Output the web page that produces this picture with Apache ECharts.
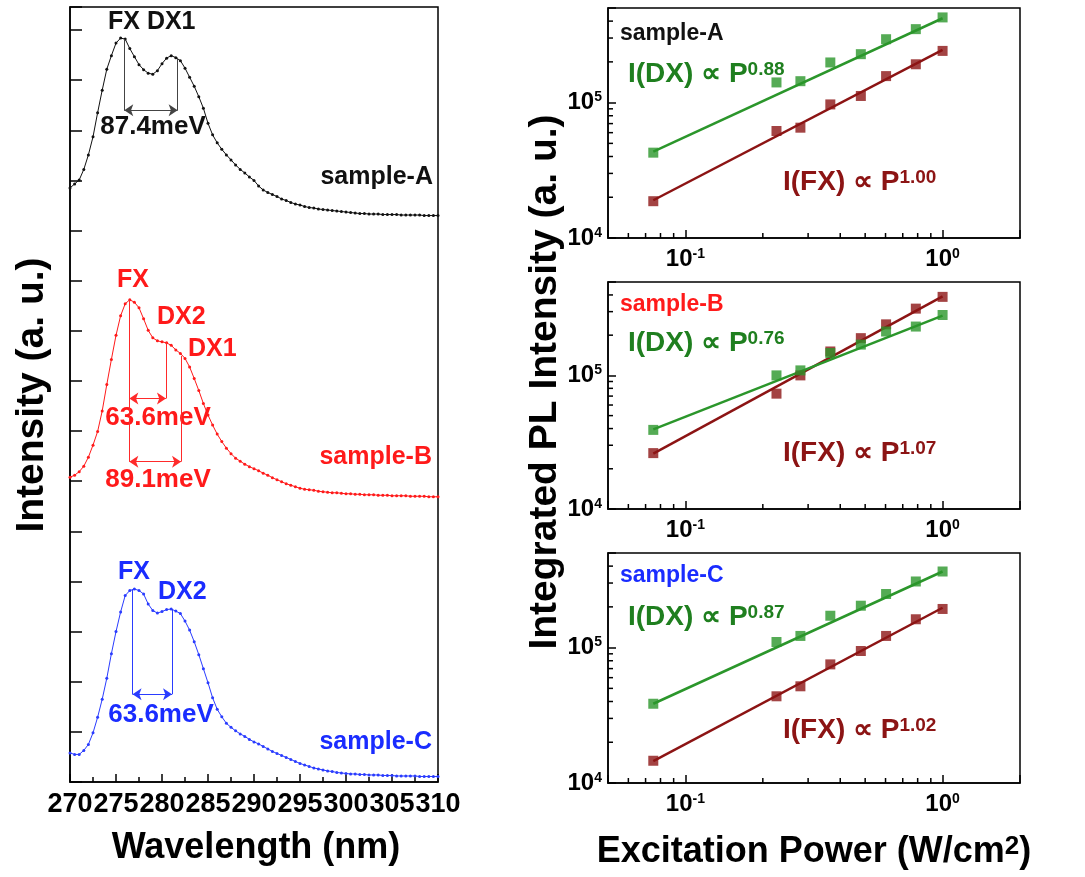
<!DOCTYPE html>
<html>
<head>
<meta charset="utf-8">
<title>PL spectra and excitation power dependence</title>
<script src="https://cdn.jsdelivr.net/npm/echarts@6.0.0/dist/echarts.min.js"></script>
<style>
  html, body { margin: 0; padding: 0; background: #fff; }
  #main { width: 1085px; height: 877px; }
</style>
</head>
<body>
<div id="main"></div>
<script>
// ---- left panel: PL spectra (offset, arbitrary units) ----
var wavelength = [270, 270.5, 271, 271.5, 272, 272.5, 273, 273.5, 274, 274.5,
  275, 275.5, 276, 276.5, 277, 277.5, 278, 278.5, 279, 279.5,
  280, 280.5, 281, 281.5, 282, 282.5, 283, 283.5, 284, 284.5,
  285, 285.5, 286, 286.5, 287, 287.5, 288, 288.5, 289, 289.5,
  290, 290.5, 291, 291.5, 292, 292.5, 293, 293.5, 294, 294.5,
  295, 295.5, 296, 296.5, 297, 297.5, 298, 298.5, 299, 299.5,
  300, 300.5, 301, 301.5, 302, 302.5, 303, 303.5, 304, 304.5,
  305, 305.5, 306, 306.5, 307, 307.5, 308, 308.5, 309, 309.5, 310];

var specA = [11.85, 11.93, 12.01, 12.22, 12.51, 12.87, 13.35, 13.80, 14.22, 14.49,
  14.74, 14.84, 14.82, 14.63, 14.47, 14.31, 14.21, 14.14, 14.12, 14.19,
  14.33, 14.44, 14.49, 14.45, 14.39, 14.24, 14.06, 13.88, 13.67, 13.44,
  13.14, 12.91, 12.75, 12.62, 12.51, 12.41, 12.31, 12.22, 12.15, 12.07,
  12.00, 11.89, 11.81, 11.76, 11.72, 11.68, 11.63, 11.60, 11.56, 11.53,
  11.51, 11.48, 11.46, 11.45, 11.43, 11.42, 11.41, 11.40, 11.39, 11.38,
  11.37, 11.36, 11.35, 11.34, 11.34, 11.33, 11.33, 11.33, 11.32, 11.32,
  11.32, 11.32, 11.31, 11.31, 11.31, 11.31, 11.31, 11.30, 11.30, 11.30, 11.30];

var specB = [6.08, 6.12, 6.19, 6.30, 6.48, 6.72, 6.99, 7.40, 7.93, 8.43,
  8.91, 9.30, 9.54, 9.62, 9.57, 9.46, 9.24, 9.01, 8.86, 8.80,
  8.78, 8.76, 8.71, 8.62, 8.55, 8.45, 8.28, 8.05, 7.81, 7.55,
  7.32, 7.12, 6.94, 6.79, 6.66, 6.55, 6.46, 6.40, 6.34, 6.29,
  6.25, 6.21, 6.16, 6.12, 6.07, 6.03, 5.99, 5.95, 5.92, 5.89,
  5.86, 5.84, 5.83, 5.82, 5.80, 5.79, 5.78, 5.77, 5.77, 5.76,
  5.75, 5.75, 5.74, 5.74, 5.73, 5.73, 5.73, 5.72, 5.72, 5.72,
  5.71, 5.71, 5.71, 5.71, 5.70, 5.70, 5.70, 5.70, 5.69, 5.69, 5.69];

var specC = [0.58, 0.55, 0.55, 0.63, 0.75, 0.98, 1.29, 1.65, 2.07, 2.56,
  3.00, 3.39, 3.72, 3.82, 3.85, 3.82, 3.75, 3.55, 3.42, 3.37,
  3.40, 3.44, 3.45, 3.41, 3.36, 3.21, 3.03, 2.80, 2.54, 2.26,
  1.98, 1.68, 1.45, 1.30, 1.17, 1.09, 1.02, 0.96, 0.91, 0.85,
  0.80, 0.76, 0.71, 0.66, 0.61, 0.57, 0.53, 0.49, 0.45, 0.41,
  0.37, 0.34, 0.31, 0.28, 0.26, 0.24, 0.22, 0.21, 0.19, 0.18,
  0.17, 0.16, 0.16, 0.15, 0.15, 0.14, 0.14, 0.14, 0.13, 0.13,
  0.13, 0.12, 0.12, 0.12, 0.12, 0.12, 0.11, 0.11, 0.11, 0.11, 0.11];

// ---- right panels: integrated PL intensity vs excitation power ----
var power = [0.075, 0.226, 0.28, 0.366, 0.481, 0.603, 0.787, 1.0];

var dxA = [4.27e4, 1.41e5, 1.44e5, 1.98e5, 2.28e5, 2.94e5, 3.49e5, 4.26e5];
var fxA = [1.87e4, 6.17e4, 6.53e4, 9.7e4, 1.12e5, 1.57e5, 1.92e5, 2.41e5];
var dxB = [3.91e4, 1.0e5, 1.09e5, 1.47e5, 1.70e5, 2.13e5, 2.32e5, 2.83e5];
var fxB = [2.62e4, 7.3e4, 1.0e5, 1.51e5, 1.90e5, 2.41e5, 3.16e5, 3.87e5];
var dxC = [3.85e4, 1.10e5, 1.22e5, 1.72e5, 2.04e5, 2.49e5, 3.08e5, 3.65e5];
var fxC = [1.46e4, 4.37e4, 5.18e4, 7.52e4, 9.44e4, 1.22e5, 1.62e5, 1.93e5];

// fitted power-law lines (end points)
var fitDxA = [[0.075, 4.35e4], [1.0, 4.2e5]];
var fitFxA = [[0.075, 1.9e4], [1.0, 2.45e5]];
var fitDxB = [[0.075, 3.95e4], [1.0, 2.8e5]];
var fitFxB = [[0.075, 2.6e4], [1.0, 3.9e5]];
var fitDxC = [[0.075, 3.85e4], [1.0, 3.65e5]];
var fitFxC = [[0.075, 1.45e4], [1.0, 1.97e5]];

var yMinorTicks = [2e4, 3e4, 4e4, 5e4, 6e4, 7e4, 8e4, 9e4, 2e5, 3e5, 4e5];
var xMinorTicks = [0.06, 0.07, 0.08, 0.09, 0.2, 0.3, 0.4, 0.5, 0.6, 0.7, 0.8, 0.9];

var FONT = '"Liberation Sans", Arial, sans-serif';
var GREEN = '#2b962b', GREEN_TXT = '#1f7f1f', DRED = '#8c1414';

var chart = echarts.init(document.getElementById('main'));

function pairs(xs, ys) {
  return xs.map(function (x, i) { return [x, ys[i]]; });
}

function vline(x, y0, y1) {
  return [{ coord: [x, y0] }, { coord: [x, y1] }];
}
function arrowLine(x0, x1, y) {
  return [{ coord: [x0, y], symbol: 'arrow' }, { coord: [x1, y], symbol: 'arrow' }];
}

function specSeries(ys, color, lineColor, marks) {
  return {
    type: 'line', xAxisIndex: 0, yAxisIndex: 0,
    data: pairs(wavelength, ys),
    symbol: 'circle', symbolSize: 3, showAllSymbol: true,
    lineStyle: { color: color, width: 1 },
    itemStyle: { color: color },
    animation: false,
    markLine: {
      silent: true, animation: false,
      symbol: ['none', 'none'], symbolSize: 9,
      label: { show: false },
      lineStyle: { color: lineColor, width: 1, type: 'solid' },
      emphasis: { disabled: true },
      data: marks
    }
  };
}

var grids = [
  { left: 70, top: 7, width: 368, height: 775 },
  { left: 608, top: 8, width: 412, height: 230 },
  { left: 608, top: 282, width: 412, height: 227 },
  { left: 608, top: 553, width: 412, height: 230 }
];
grids.forEach(function (g) {
  g.show = true; g.borderColor = '#000'; g.borderWidth = 1.5;
  g.backgroundColor = 'transparent';
});

function powLabel(v) {
  var l = Math.log10(v), e = Math.round(l);
  if (Math.abs(l - e) > 1e-6) return '';
  return '{b|10}{s|' + e + '}';
}
var powRich = {
  b: { fontSize: 24, fontWeight: 'bold', fontFamily: FONT, color: '#000' },
  s: { fontSize: 14, fontWeight: 'bold', fontFamily: FONT, color: '#000', verticalAlign: 'top' }
};

var xAxes = [{
  gridIndex: 0, type: 'value', min: 270, max: 310, interval: 5,
  axisLine: { lineStyle: { color: '#000', width: 1.5 } },
  axisTick: { inside: true, length: 8, lineStyle: { color: '#000', width: 1.5 } },
  minorTick: { show: true, splitNumber: 2, length: 5, lineStyle: { color: '#000', width: 1.5 } },
  splitLine: { show: false },
  axisLabel: { margin: 9, fontSize: 27, fontWeight: 'bold', fontFamily: FONT, color: '#000' }
}];
var yAxes = [{
  gridIndex: 0, type: 'value', min: 0, max: 15.46, interval: 1,
  axisLine: { lineStyle: { color: '#000', width: 1.5 } },
  axisTick: { inside: true, length: 12, lineStyle: { color: '#000', width: 1.5 } },
  splitLine: { show: false },
  axisLabel: { show: false }
}];
for (var gi = 1; gi <= 3; gi++) {
  xAxes.push({
    gridIndex: gi, type: 'log', logBase: 10, min: 0.05, max: 2,
    axisLine: { lineStyle: { color: '#000', width: 1.5 } },
    axisTick: { inside: true, length: 8, lineStyle: { color: '#000', width: 1.5 } },
    splitLine: { show: false },
    axisLabel: { margin: 9, formatter: powLabel, rich: powRich }
  });
  yAxes.push({
    gridIndex: gi, type: 'log', logBase: 10, min: 1e4, max: 5e5,
    axisLine: { lineStyle: { color: '#000', width: 1.5 } },
    axisTick: { inside: true, length: 8, lineStyle: { color: '#000', width: 1.5 } },
    splitLine: { show: false },
    axisLabel: { margin: 6, formatter: powLabel, rich: powRich }
  });
}

function minorTickSeries(gi, dim) {
  var data = dim === 'y'
    ? yMinorTicks.map(function (v) { return [0.05, v]; })
    : xMinorTicks.map(function (v) { return [v, 1e4]; });
  return {
    type: 'custom', xAxisIndex: gi, yAxisIndex: gi, silent: true, animation: false,
    data: data,
    renderItem: function (params, api) {
      var p = api.coord([api.value(0), api.value(1)]);
      var shape = dim === 'y'
        ? { x1: p[0], y1: p[1], x2: p[0] + 5, y2: p[1] }
        : { x1: p[0], y1: p[1], x2: p[0], y2: p[1] - 5 };
      return { type: 'line', shape: shape, style: { stroke: '#000', lineWidth: 1.5 } };
    }
  };
}

function powerSeries(gi, dx, fx, fitDx, fitFx) {
  var lineOf = function (d, c) {
    return { type: 'line', xAxisIndex: gi, yAxisIndex: gi, data: d, symbol: 'none',
      lineStyle: { color: c, width: 2.5 }, animation: false, z: 2 };
  };
  var dotsOf = function (ys, c) {
    return { type: 'scatter', xAxisIndex: gi, yAxisIndex: gi, data: pairs(power, ys),
      symbol: 'rect', symbolSize: 10, itemStyle: { color: c }, animation: false, z: 3 };
  };
  return [lineOf(fitFx, DRED), lineOf(fitDx, GREEN), dotsOf(fx, DRED), dotsOf(dx, GREEN),
    minorTickSeries(gi, 'y'), minorTickSeries(gi, 'x')];
}

var series = [
  specSeries(specA, '#111', '#444', [
    vline(275.9, 14.82, 13.40), vline(281.7, 14.45, 13.40), arrowLine(275.9, 281.7, 13.40)
  ]),
  specSeries(specB, '#ff1a1a', '#ff2a2a', [
    vline(276.45, 9.62, 6.39), vline(280.43, 8.77, 7.65), vline(282.07, 8.50, 6.39),
    arrowLine(276.45, 280.43, 7.65), arrowLine(276.45, 282.07, 6.39)
  ]),
  specSeries(specC, '#2a3cff', '#2a3cff', [
    vline(276.8, 3.84, 1.75), vline(281.09, 3.45, 1.75), arrowLine(276.8, 281.09, 1.75)
  ])
];
series = series.concat(
  powerSeries(1, dxA, fxA, fitDxA, fitFxA),
  powerSeries(2, dxB, fxB, fitDxB, fitFxB),
  powerSeries(3, dxC, fxC, fitDxC, fitFxC)
);

// text annotations
function txt(s, x, y, size, color, align) {
  return { type: 'text', x: x, y: y, silent: true,
    style: { text: s, fontSize: size, fontWeight: 'bold', fontFamily: FONT, fill: color,
      align: align || 'left', verticalAlign: 'middle' } };
}
function law(label, exp, x, y, color) {
  return { type: 'text', x: x, y: y, silent: true,
    style: { text: '{m|' + label + '}{s|' + exp + '}', fill: color, align: 'left', verticalAlign: 'middle',
      rich: {
        m: { fontSize: 28, fontWeight: 'bold', fontFamily: FONT, fill: color, color: color },
        s: { fontSize: 19, fontWeight: 'bold', fontFamily: FONT, fill: color, color: color, verticalAlign: 'top' }
      } } };
}
function vtitle(s, x, y, size) {
  return { type: 'text', x: x, y: y, rotation: Math.PI / 2, silent: true,
    style: { text: s, fontSize: size, fontWeight: 'bold', fontFamily: FONT, fill: '#000',
      align: 'center', verticalAlign: 'middle' } };
}

var graphics = [
  txt('FX DX1', 108, 22, 25, '#111'),
  txt('87.4meV', 153, 127, 26, '#111', 'center'),
  txt('sample-A', 433, 177, 25, '#111', 'right'),
  txt('FX', 117, 280, 25, '#ff1a1a'),
  txt('DX2', 157, 317, 25, '#ff1a1a'),
  txt('DX1', 188, 349, 25, '#ff1a1a'),
  txt('63.6meV', 158, 418, 26, '#ff1a1a', 'center'),
  txt('89.1meV', 158, 480, 26, '#ff1a1a', 'center'),
  txt('sample-B', 432, 457, 25, '#ff1a1a', 'right'),
  txt('FX', 118, 572, 25, '#1a2cff'),
  txt('DX2', 158, 592, 25, '#1a2cff'),
  txt('63.6meV', 161, 715, 26, '#1a2cff', 'center'),
  txt('sample-C', 432, 742, 25, '#1a2cff', 'right'),

  txt('sample-A', 620, 34, 23, '#111'),
  law('I(DX) \u221d P', '0.88', 628, 74, GREEN_TXT),
  law('I(FX) \u221d P', '1.00', 783, 182, DRED),
  txt('sample-B', 620, 305, 23, '#ff1a1a'),
  law('I(DX) \u221d P', '0.76', 628, 343, GREEN_TXT),
  law('I(FX) \u221d P', '1.07', 783, 453, DRED),
  txt('sample-C', 620, 576, 23, '#1a2cff'),
  law('I(DX) \u221d P', '0.87', 628, 617, GREEN_TXT),
  law('I(FX) \u221d P', '1.02', 783, 730, DRED),

  vtitle('Intensity (a. u.)', 32, 395, 39),
  vtitle('Integrated PL Intensity (a. u.)', 545, 382, 39),
  txt('Wavelength (nm)', 256, 848, 36, '#000', 'center'),
  { type: 'text', x: 814, y: 852, silent: true,
    style: { text: '{t|Excitation Power (W/cm}{s|2}{t|)}', align: 'center', verticalAlign: 'middle',
      rich: {
        t: { fontSize: 36, fontWeight: 'bold', fontFamily: FONT, color: '#000' },
        s: { fontSize: 26, fontWeight: 'bold', fontFamily: FONT, color: '#000', verticalAlign: 'top' }
      } } }
];

chart.setOption({
  backgroundColor: '#fff',
  animation: false,
  grid: grids,
  xAxis: xAxes,
  yAxis: yAxes,
  series: series,
  graphic: graphics
});
</script>
</body>
</html>
